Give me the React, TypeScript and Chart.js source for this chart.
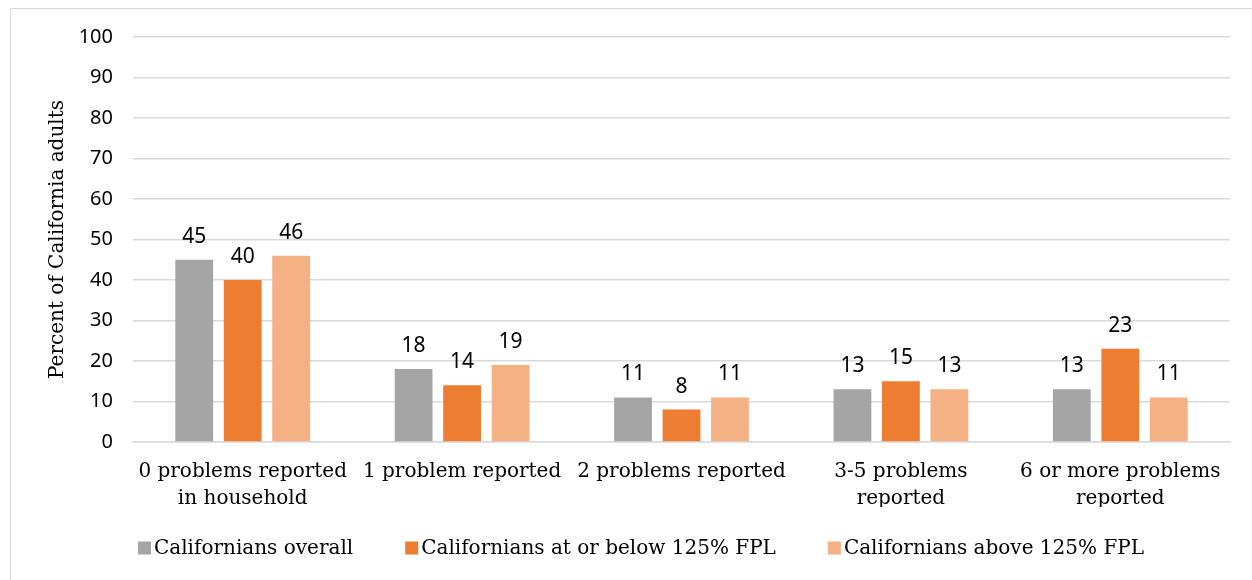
import React, { useEffect, useRef } from "react";
import { Chart, registerables } from "chart.js";

Chart.register(...registerables);

const categories: string[][] = [
  ["0 problems reported", "in household"],
  ["1 problem reported"],
  ["2 problems reported"],
  ["3-5 problems", "reported"],
  ["6 or more problems", "reported"],
];
const overall = [45, 18, 11, 13, 13];
const belowFPL = [40, 14, 8, 15, 23];
const aboveFPL = [46, 19, 11, 13, 11];
const seriesNames = [
  "Californians overall",
  "Californians at or below 125% FPL",
  "Californians above 125% FPL",
];
const colors = ["#A5A5A5", "#ED7D31", "#F4B183"];
const yTitle = "Percent of California adults";

const SANS = "'Noto Sans', sans-serif";
const SLAB = "'DejaVu Serif', serif";

const dataLabels = {
  id: "dataLabels",
  afterDatasetsDraw(chart: any) {
    const ctx = chart.ctx;
    ctx.save();
    ctx.font = `21px ${SANS}`;
    ctx.fillStyle = "#000";
    ctx.textAlign = "center";
    ctx.textBaseline = "alphabetic";
    chart.data.datasets.forEach((ds: any, i: number) => {
      const meta = chart.getDatasetMeta(i);
      meta.data.forEach((bar: any, j: number) => {
        ctx.fillText(String(ds.data[j]), bar.x, bar.y - 17);
      });
    });
    ctx.restore();
  },
};

// Legend drawn below the x axis with tight box/text spacing
const bottomLegend = {
  id: "bottomLegend",
  afterDraw(chart: any) {
    const ctx = chart.ctx;
    ctx.save();
    ctx.font = `20px ${SLAB}`;
    ctx.textBaseline = "middle";
    ctx.textAlign = "left";
    const box = 13;
    const gapText = 3;
    const gapItem = 52;
    const items = chart.data.datasets.map((ds: any) => ({
      label: ds.label,
      color: ds.backgroundColor,
      w: ctx.measureText(ds.label).width,
    }));
    const total =
      items.reduce((a: number, it: any) => a + box + gapText + it.w, 0) + gapItem * (items.length - 1);
    const cx = 641;
    const cy = 548;
    let x = cx - total / 2;
    items.forEach((it: any) => {
      ctx.fillStyle = it.color;
      ctx.fillRect(x, cy - box / 2, box, box);
      x += box + gapText;
      ctx.fillStyle = "#000";
      ctx.fillText(it.label, x, cy + 1);
      x += it.w + gapItem;
    });
    ctx.restore();
  },
};

export default function App() {
  const ref = useRef<HTMLCanvasElement>(null);
  useEffect(() => {
    if (!ref.current) return;
    const data = [overall, belowFPL, aboveFPL];
    const chart = new Chart(ref.current, {
      type: "bar",
      data: {
        labels: categories,
        datasets: data.map((d, i) => ({
          label: seriesNames[i],
          data: d,
          backgroundColor: colors[i],
          barPercentage: 0.78,
          categoryPercentage: 0.663,
        })),
      },
      options: {
        responsive: false,
        animation: false,
        layout: { padding: { left: 40, right: 22, top: 37, bottom: 73 } },
        plugins: {
          tooltip: { enabled: false },
          legend: { display: false },
        },
        scales: {
          y: {
            min: 0,
            max: 100,
            ticks: {
              stepSize: 10,
              color: "#000",
              padding: 20,
              font: { family: SANS, size: 20 },
            },
            grid: { color: "#D9D9D9", lineWidth: 1.5, drawTicks: false },
            border: { display: false },
            title: {
              display: true,
              text: yTitle,
              color: "#000",
              font: { family: SLAB, size: 20 },
              padding: { top: 6, bottom: 0 },
            },
            afterFit: (s: any) => {
              s.width = 93;
            },
          },
          x: {
            ticks: {
              color: "#000",
              padding: 16,
              maxRotation: 0,
              font: { family: SLAB, size: 20, lineHeight: 1.35 },
            },
            grid: { display: false, drawTicks: false },
            border: { color: "#D9D9D9", width: 1.5 },
            afterFit: (s: any) => {
              s.height = 65;
            },
          },
        },
      },
      plugins: [dataLabels, bottomLegend],
    });
    return () => chart.destroy();
  }, []);
  return (
    <div style={{ position: "absolute", left: 0, top: 0, width: 1252, height: 580, background: "#fff", overflow: "hidden" }}>
      <div
        style={{
          position: "absolute",
          left: 10,
          top: 8,
          width: 1260,
          height: 600,
          border: "1.5px solid #D9D9D9",
          boxSizing: "border-box",
        }}
      />
      <canvas ref={ref} width={1252} height={580} style={{ position: "absolute", left: 0, top: 0 }} />
    </div>
  );
}
